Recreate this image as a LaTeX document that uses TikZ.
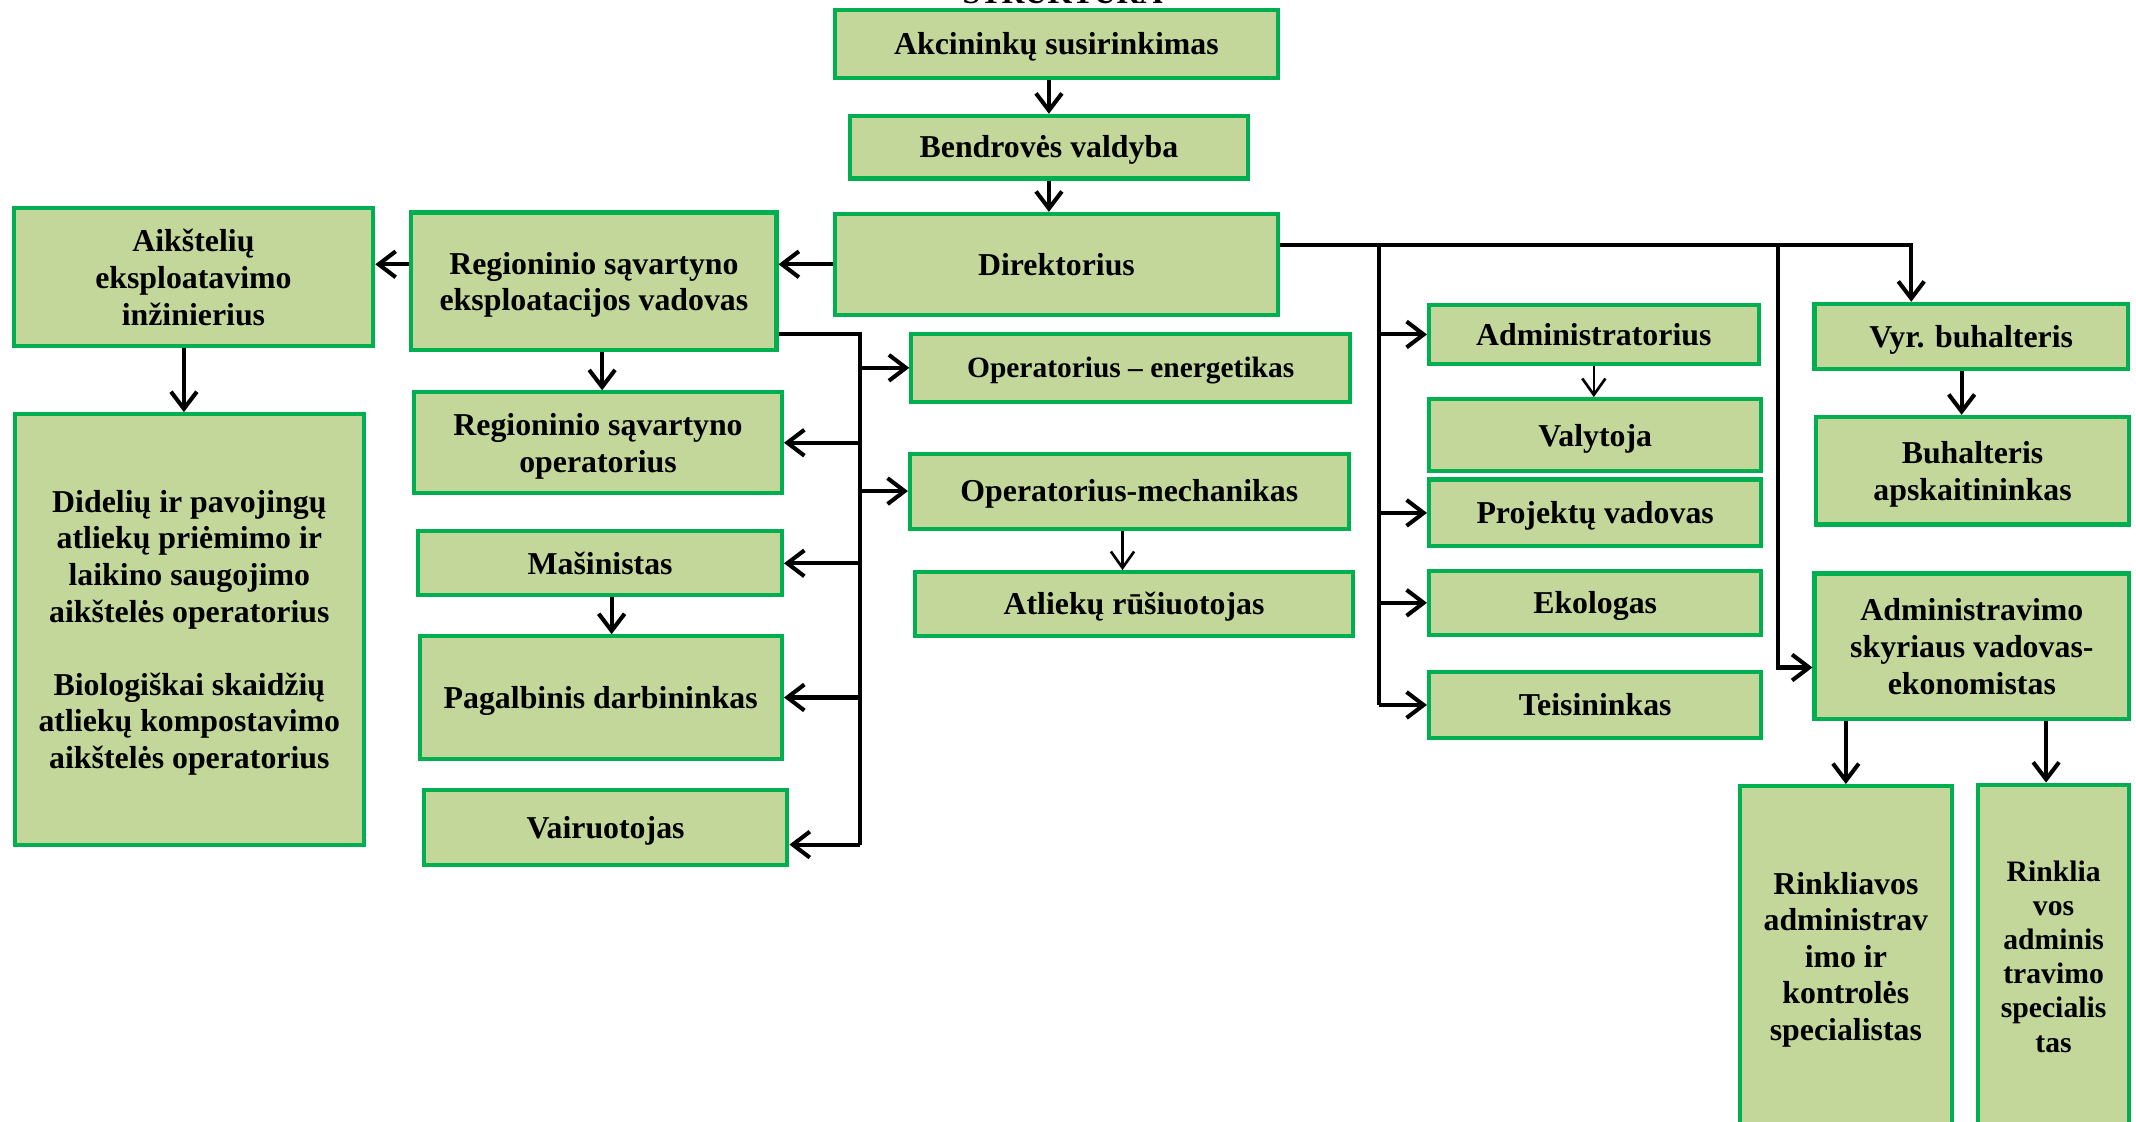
\documentclass[tikz,border=0pt]{standalone}
\usepackage{fontspec}
\setmainfont{Liberation Serif}
\usetikzlibrary{arrows.meta}

\definecolor{lapas}{RGB}{196,215,155}
\definecolor{remas}{RGB}{0,176,80}

\tikzstyle{pareigos}= [rectangle,draw=remas,line width=1.7pt,fill=lapas,align=center,inner sep=2pt,font=\bfseries\fontsize{13.3}{15.3}\selectfont,execute at begin node={\rule{0pt}{0.891em}},execute at end node={\rule[-0.216em]{0pt}{0pt}}]
\tikzstyle{daug}= [text depth=-0.5pt]
\tikzstyle{rodykle}= [black,line width=1.7pt,-{Straight Barb[length=2.5mm,width=3.8mm]}]
\tikzstyle{plona}= [black,line width=1.1pt,-{Straight Barb[length=2.4mm,width=3.4mm]}]
\tikzstyle{linija}= [black,line width=1.7pt]

\begin{document}
\begin{tikzpicture}[x=0.2mm,y=-0.2mm]
		\useasboundingbox (0,0) rectangle (1568,823.6);
		\clip (0,0) rectangle (1568,823.6);

		\node (antraste) at (780,2.5) [anchor=base,font=\bfseries\fontsize{13.3}{15.3}\selectfont] {STRUKTŪRA};

		\node (akc) at (775.5,32) [pareigos,minimum width=65mm,minimum height=10mm] {Akcininkų susirinkimas};
		\node (bendr) at (770,108) [pareigos,minimum width=58.4mm,minimum height=9.2mm] {Bendrovės valdyba};
		\node (dir) at (775.5,194) [pareigos,minimum width=65mm,minimum height=14.8mm] {Direktorius};

		\node (regeks) at (436,206.5) [pareigos,daug,minimum width=53.6mm,minimum height=20.2mm] {Regioninio sąvartyno\\eksploatacijos vadovas};
		\node (aiks) at (142,203.5) [pareigos,daug,minimum width=52.8mm,minimum height=20.2mm] {Aikštelių\\eksploatavimo\\inžinierius};
		\node (didel) at (139,462) [pareigos,daug,minimum width=51.2mm,minimum height=63.2mm] {Didelių ir pavojingų\\atliekų priėmimo ir\\laikino saugojimo\\aikštelės operatorius\\[15.3pt]Biologiškai skaidžių\\atliekų kompostavimo\\aikštelės operatorius};

		\node (regop) at (439,325) [pareigos,daug,minimum width=54mm,minimum height=14.8mm] {Regioninio sąvartyno\\operatorius};
		\node (masin) at (440.5,413.5) [pareigos,minimum width=53.4mm,minimum height=9.4mm] {Mašinistas};
		\node (pagal) at (441,512) [pareigos,minimum width=53.2mm,minimum height=18mm] {Pagalbinis darbininkas};
		\node (vair) at (444.5,607.5) [pareigos,minimum width=53.4mm,minimum height=11mm] {Vairuotojas};

		\node (opener) at (830,270) [pareigos,minimum width=64.4mm,minimum height=10mm,font=\bfseries\fontsize{12.3}{14.2}\selectfont] {Operatorius – energetikas};
		\node (opmech) at (829,360.5) [pareigos,minimum width=64.4mm,minimum height=11mm] {Operatorius-mechanikas};
		\node (atlrus) at (832.5,443.5) [pareigos,minimum width=64.2mm,minimum height=9.4mm] {Atliekų rūšiuotojas};

		\node (admin) at (1170,245.5) [pareigos,minimum width=48.4mm,minimum height=8.6mm] {Administratorius};
		\node (valyt) at (1171,319.5) [pareigos,minimum width=48.8mm,minimum height=10.6mm] {Valytoja};
		\node (projekt) at (1171,376.5) [pareigos,minimum width=48.8mm,minimum height=9.8mm] {Projektų vadovas};
		\node (ekolog) at (1171,442.5) [pareigos,minimum width=48.8mm,minimum height=9.4mm] {Ekologas};
		\node (teis) at (1171,517.5) [pareigos,minimum width=48.8mm,minimum height=9.8mm] {Teisininkas};

		\node (vyrbuh) at (1447,247) [pareigos,minimum width=46mm,minimum height=9.6mm] {Vyr. buhalteris};
		\node (buhal) at (1448,345.5) [pareigos,daug,minimum width=46mm,minimum height=15.8mm] {Buhalteris\\apskaitininkas};
		\node (admsk) at (1447.5,474.5) [pareigos,daug,minimum width=46.2mm,minimum height=21.4mm] {Administravimo\\skyriaus vadovas-\\ekonomistas};
		\node (rink1) at (1355,702) [pareigos,daug,minimum width=31.2mm,minimum height=50mm] {Rinkliavos\\administrav\\imo ir\\kontrolės\\specialistas};
		\node (rink2) at (1507.5,702) [pareigos,daug,minimum width=22.2mm,minimum height=50.4mm,font=\bfseries\fontsize{12.4}{14.3}\selectfont] {Rinklia\\vos\\adminis\\travimo\\specialis\\tas};

		% virsutine grandis
		\path[rodykle] (akc.south -| bendr.north) edge (bendr.north);
		\path[rodykle] (bendr.south) edge (bendr.south |- dir.north);
		\path[rodykle] (dir.west) edge (dir.west -| regeks.east);
		\path[rodykle] (dir.west -| regeks.west) edge (dir.west -| aiks.east);
		\path[rodykle] ([xshift=-0.8mm]didel.north |- aiks.south) edge ([xshift=-0.8mm]didel.north);
		\path[rodykle] ([xshift=0.6mm]regop.north |- regeks.south) edge ([xshift=0.6mm]regop.north);
		\path[rodykle] ([xshift=1.7mm]masin.south) edge ([xshift=1.7mm]masin.south |- pagal.north);
		\path[plona] ([xshift=-1mm]opmech.south) edge ([xshift=-1mm]opmech.south |- atlrus.north);

		% savartyno kamienas
		\coordinate (k1) at (631,245);
		\coordinate (k2) at (631,620);
		\draw[linija] (regeks.east |- k1) -- (k1) -- (k2);
		\path[rodykle] (k1 |- opener.west) edge (opener.west);
		\path[rodykle] (k1 |- opmech.west) edge (opmech.west);
		\path[rodykle] (k1 |- regop.east) edge (regop.east);
		\path[rodykle] (k1 |- masin.east) edge (masin.east);
		\path[rodykle] (k1 |- pagal.east) edge (pagal.east);
		\path[rodykle] (k2) edge (k2 -| vair.east);

		% direktoriaus kamienas
		\coordinate (d1) at (1012,180);
		\coordinate (d3) at (1305,180);
		\coordinate (d4) at (1305,490);
		\coordinate (d5) at (1403,180);
		\draw[rodykle] (dir.east |- d1) -- (d5) -- (d5 |- vyrbuh.north);
		\draw[linija] (d1) -- (d1 |- teis.west);
		\path[rodykle] (d1 |- admin.west) edge (admin.west);
		\path[rodykle] (d1 |- projekt.west) edge (projekt.west);
		\path[rodykle] (d1 |- ekolog.west) edge (ekolog.west);
		\path[rodykle] (d1 |- teis.west) edge (teis.west);
		\draw[rodykle] (d3) -- (d4) -- (d4 -| admsk.west);
		\path[plona] (admin.south) edge (admin.south |- valyt.north);
		\path[rodykle] ([xshift=-1.6mm]buhal.north |- vyrbuh.south) edge ([xshift=-1.6mm]buhal.north);
		\path[rodykle] (rink1.north |- admsk.south) edge (rink1.north);
		\path[rodykle] ([xshift=-1.1mm]rink2.north |- admsk.south) edge ([xshift=-1.1mm]rink2.north);

	\end{tikzpicture}
\end{document}
